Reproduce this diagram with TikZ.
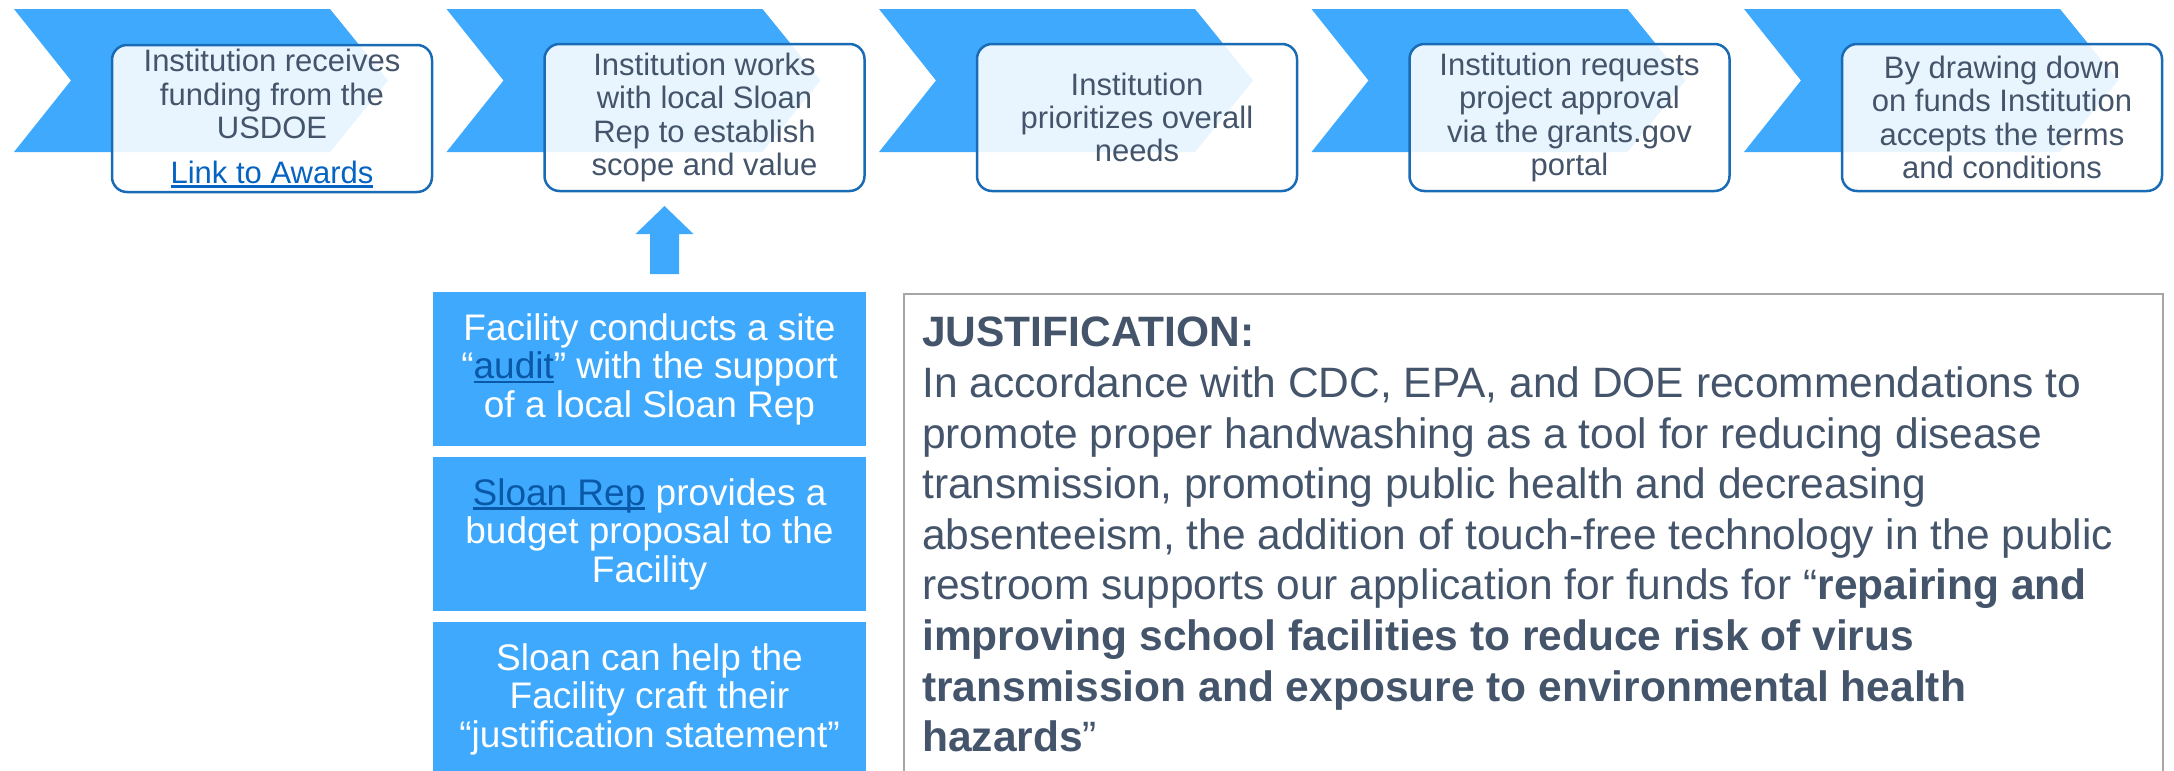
\documentclass[tikz,border=0pt]{standalone}
\usepackage{fontspec}
\setmainfont{Liberation Sans}
\definecolor{chev}{HTML}{3FAAFD}
\definecolor{bord}{HTML}{1A6BB5}
\definecolor{txt}{HTML}{44546A}
\definecolor{lnk}{HTML}{0563C1}
\definecolor{lnkd}{HTML}{0A58A8}
\definecolor{gbord}{HTML}{A6A6A6}
\newcommand{\ulnk}[2][lnk]{{\color{#1}\setbox0=\hbox{#2}\rlap{\rule[-0.13em]{\wd0}{0.07em}}\box0}}
\begin{document}
\begin{tikzpicture}[x=1pt,y=-1pt,
  stepbox/.style={draw=bord, line width=2.5pt, rounded corners=15pt, fill=white,
    fill opacity=0.885, text opacity=1, minimum width=320pt, minimum height=147pt,
    inner sep=0pt, align=center, text=txt, font=\fontsize{31}{33.2}\selectfont},
  bluebox/.style={fill=chev, minimum width=433pt, minimum height=154pt, inner sep=0pt,
    align=center, text=white, font=\fontsize{37}{38.5}\selectfont},
]
\useasboundingbox (0,0) rectangle (2174,771);
\fill[white] (0,0) rectangle (2174,771);
\clip (0,0) rectangle (2174,771);

% chevrons
\foreach \i in {0,...,4} {
  \pgfmathsetmacro\xo{14+432.5*\i}
  \fill[chev] (\xo,9) -- ++(316,0) -- ++(58,71.5) -- ++(-58,71.5) -- ++(-316,0) -- ++(57,-71.5) -- cycle;
}

% step boxes
\node[stepbox] (s1) at (272,118.5) {Institution receives\\funding from the\\USDOE\\[12pt]\ulnk{Link to Awards}};
\node[stepbox] (s2) at (704.5,117.5) {Institution works\\with local Sloan\\Rep to establish\\scope and value};
\node[stepbox] (s3) at (1137,117.5) {Institution\\prioritizes overall\\needs};
\node[stepbox] (s4) at (1569.5,117.5) {Institution requests\\project approval\\via the grants.gov\\portal};
\node[stepbox] (s5) at (2002,117.5) {By drawing down\\on funds Institution\\accepts the terms\\and conditions};

% up arrow
\fill[chev] (650,274) -- (650,234) -- (635.5,234) -- (664.5,206) -- (693.5,234) -- (679,234) -- (679,274) -- cycle;

% blue boxes
\node[bluebox] (b1) at (649.5,369) {Facility conducts a site\\“\ulnk[lnkd]{audit}” with the support\\of a local Sloan Rep};
\node[bluebox] (b2) at (649.5,534) {\ulnk[lnkd]{Sloan Rep} provides a\\budget proposal to the\\Facility};
\node[bluebox] (b3) at (649.5,699) {Sloan can help the\\Facility craft their\\“justification statement”};

% justification
\node[draw=gbord, line width=2pt, anchor=north west, minimum width=1259pt, minimum height=497pt, inner sep=0pt] (jbox) at (903,293) {};
\node[anchor=north west, inner sep=0pt, align=left, text=txt, font=\fontsize{42.5}{50.6}\selectfont] (jtext) at (922,317)
{\textbf{JUSTIFICATION:}\\
In accordance with CDC, EPA, and DOE recommendations to\\
promote proper handwashing as a tool for reducing disease\\
transmission, promoting public health and decreasing\\
absenteeism, the addition of touch-free technology in the public\\
restroom supports our application for funds for “\textbf{repairing and}\\
\textbf{improving school facilities to reduce risk of virus}\\
\textbf{transmission and exposure to environmental health}\\
\textbf{hazards}”};
\end{tikzpicture}
\end{document}
